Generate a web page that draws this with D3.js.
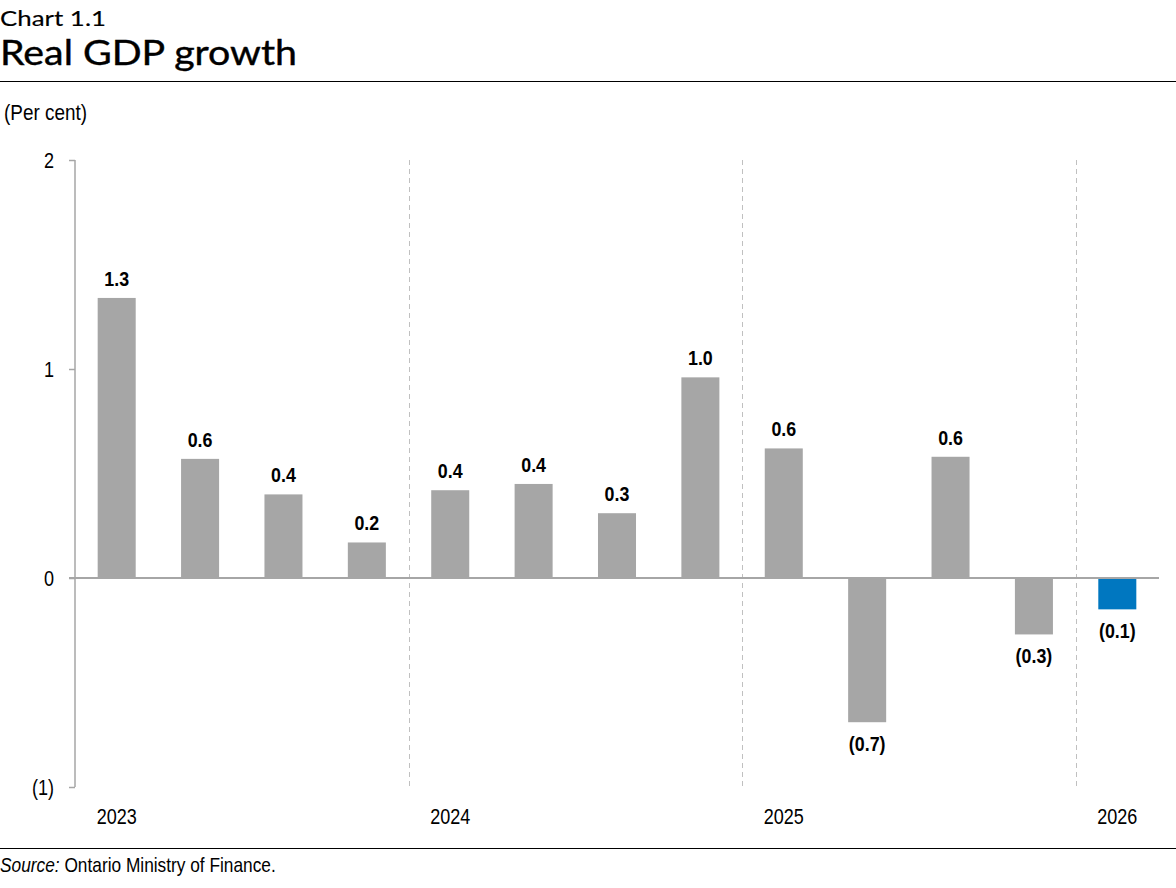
<!DOCTYPE html>
<html>
<head>
<meta charset="utf-8">
<script src="https://cdn.jsdelivr.net/npm/d3@7"></script>
<style>
  html, body { margin: 0; padding: 0; background: #fff; }
  svg { display: block; }
</style>
</head>
<body>
<svg id="chart" width="1176" height="888"></svg>
<script>
// ---- data ----
const quarters = ["2023Q1","2023Q2","2023Q3","2023Q4","2024Q1","2024Q2","2024Q3","2024Q4","2025Q1","2025Q2","2025Q3","2025Q4","2026Q1"];
const values = [1.34, 0.57, 0.40, 0.17, 0.42, 0.45, 0.31, 0.96, 0.62, -0.69, 0.58, -0.27, -0.15];
const valueLabels = ["1.3","0.6","0.4","0.2","0.4","0.4","0.3","1.0","0.6","(0.7)","0.6","(0.3)","(0.1)"];
const yearLabels = ["2023","2024","2025","2026"];
const yearStarts = ["2023Q1","2024Q1","2025Q1","2026Q1"];
const yTicks = [-1, 0, 1, 2];
const yTickLabels = ["(1)","0","1","2"];
const highlight = ["2026Q1"];

const svg = d3.select("#chart");
const sans = "'Liberation Sans',Arial,sans-serif";
const titleFont = "Lato, 'Open Sans', sans-serif";

const x = d3.scaleBand().domain(quarters).range([75, 1159]).paddingInner(0.544).paddingOuter(0.272);
const y = d3.scaleLinear().domain([-1, 2]).range([787, 160]);
const step = x.step();

// Titles
svg.append("text").attr("x", 0).attr("y", 26).text("Chart 1.1")
  .attr("textLength", 106).attr("lengthAdjust", "spacingAndGlyphs")
  .style("font-family", titleFont).style("font-size", "21px").style("font-weight", 400)
  .attr("fill", "#000").attr("stroke", "#000").attr("stroke-width", 0.15);
svg.append("text").attr("x", 0).attr("y", 65).text("Real GDP growth")
  .attr("textLength", 297).attr("lengthAdjust", "spacingAndGlyphs")
  .style("font-family", titleFont).style("font-size", "34px").style("font-weight", 400)
  .attr("fill", "#000").attr("stroke", "#000").attr("stroke-width", 0.4);
svg.append("line").attr("x1", 0).attr("x2", 1176).attr("y1", 81.5).attr("y2", 81.5).attr("stroke", "#000").attr("stroke-width", 1);

svg.append("text").attr("transform", "translate(4,120) scale(0.86,1)").text("(Per cent)")
  .style("font-family", sans).style("font-size", "22px").attr("fill", "#000");

// Year separators (dashed)
yearStarts.slice(1).forEach(q => {
  const xp = Math.round(x(q) - step * x.paddingInner() / 2) + 0.5;
  svg.append("line").attr("x1", xp).attr("x2", xp).attr("y1", y(2)).attr("y2", y(-1))
    .attr("stroke", "#c0c0c0").attr("stroke-width", 1).attr("stroke-dasharray", "5,4");
});

// Y axis
const yAxis = d3.axisLeft(y).tickValues(yTicks).tickSize(6).tickPadding(14)
  .tickFormat(d => yTickLabels[yTicks.indexOf(d)]);
const gy = svg.append("g").attr("transform", "translate(75,0)").call(yAxis);
gy.select(".domain").attr("stroke", "#a6a6a6").attr("stroke-width", 1.5).attr("d", `M0,${y(2)}V${y(-1)}`);
gy.selectAll(".tick line").attr("stroke", "#a6a6a6").attr("stroke-width", 1.5);
gy.selectAll(".tick text").attr("x", 0).attr("transform", "translate(-21,0) scale(0.82,1)")
  .style("font-family", sans).style("font-size", "22px").attr("fill", "#000");

// Bars
svg.append("g").selectAll("rect").data(quarters).join("rect")
  .attr("x", d => x(d))
  .attr("width", x.bandwidth())
  .attr("y", (d, i) => y(Math.max(0, values[i])))
  .attr("height", (d, i) => Math.abs(y(values[i]) - y(0)))
  .attr("fill", d => highlight.includes(d) ? "#0077c0" : "#a6a6a6");

// Zero line
svg.append("line").attr("x1", 69).attr("x2", 1159).attr("y1", y(0)).attr("y2", y(0))
  .attr("stroke", "#a6a6a6").attr("stroke-width", 2);

// Value labels
svg.append("g").selectAll("text").data(quarters).join("text")
  .attr("transform", (d, i) => `translate(${x(d) + x.bandwidth() / 2},${values[i] >= 0 ? y(values[i]) - 12 : y(values[i]) + 29}) scale(0.85,1)`)
  .attr("text-anchor", "middle")
  .style("font-family", sans).style("font-size", "21px").style("font-weight", "bold")
  .attr("fill", "#000")
  .text((d, i) => valueLabels[i]);

// Year labels
svg.append("g").selectAll("text").data(yearStarts).join("text")
  .attr("transform", d => `translate(${x(d) + x.bandwidth() / 2},824) scale(0.82,1)`)
  .attr("text-anchor", "middle")
  .style("font-family", sans).style("font-size", "22px").attr("fill", "#000")
  .text((d, i) => yearLabels[i]);

// Footer
svg.append("line").attr("x1", 0).attr("x2", 1176).attr("y1", 848.5).attr("y2", 848.5).attr("stroke", "#000").attr("stroke-width", 1);
const src = svg.append("text").attr("transform", "translate(0,872) scale(0.865,1)")
  .style("font-family", sans).style("font-size", "20px").attr("fill", "#000");
src.append("tspan").style("font-style", "italic").text("Source:");
src.append("tspan").text(" Ontario Ministry of Finance.");
</script>
</body>
</html>
